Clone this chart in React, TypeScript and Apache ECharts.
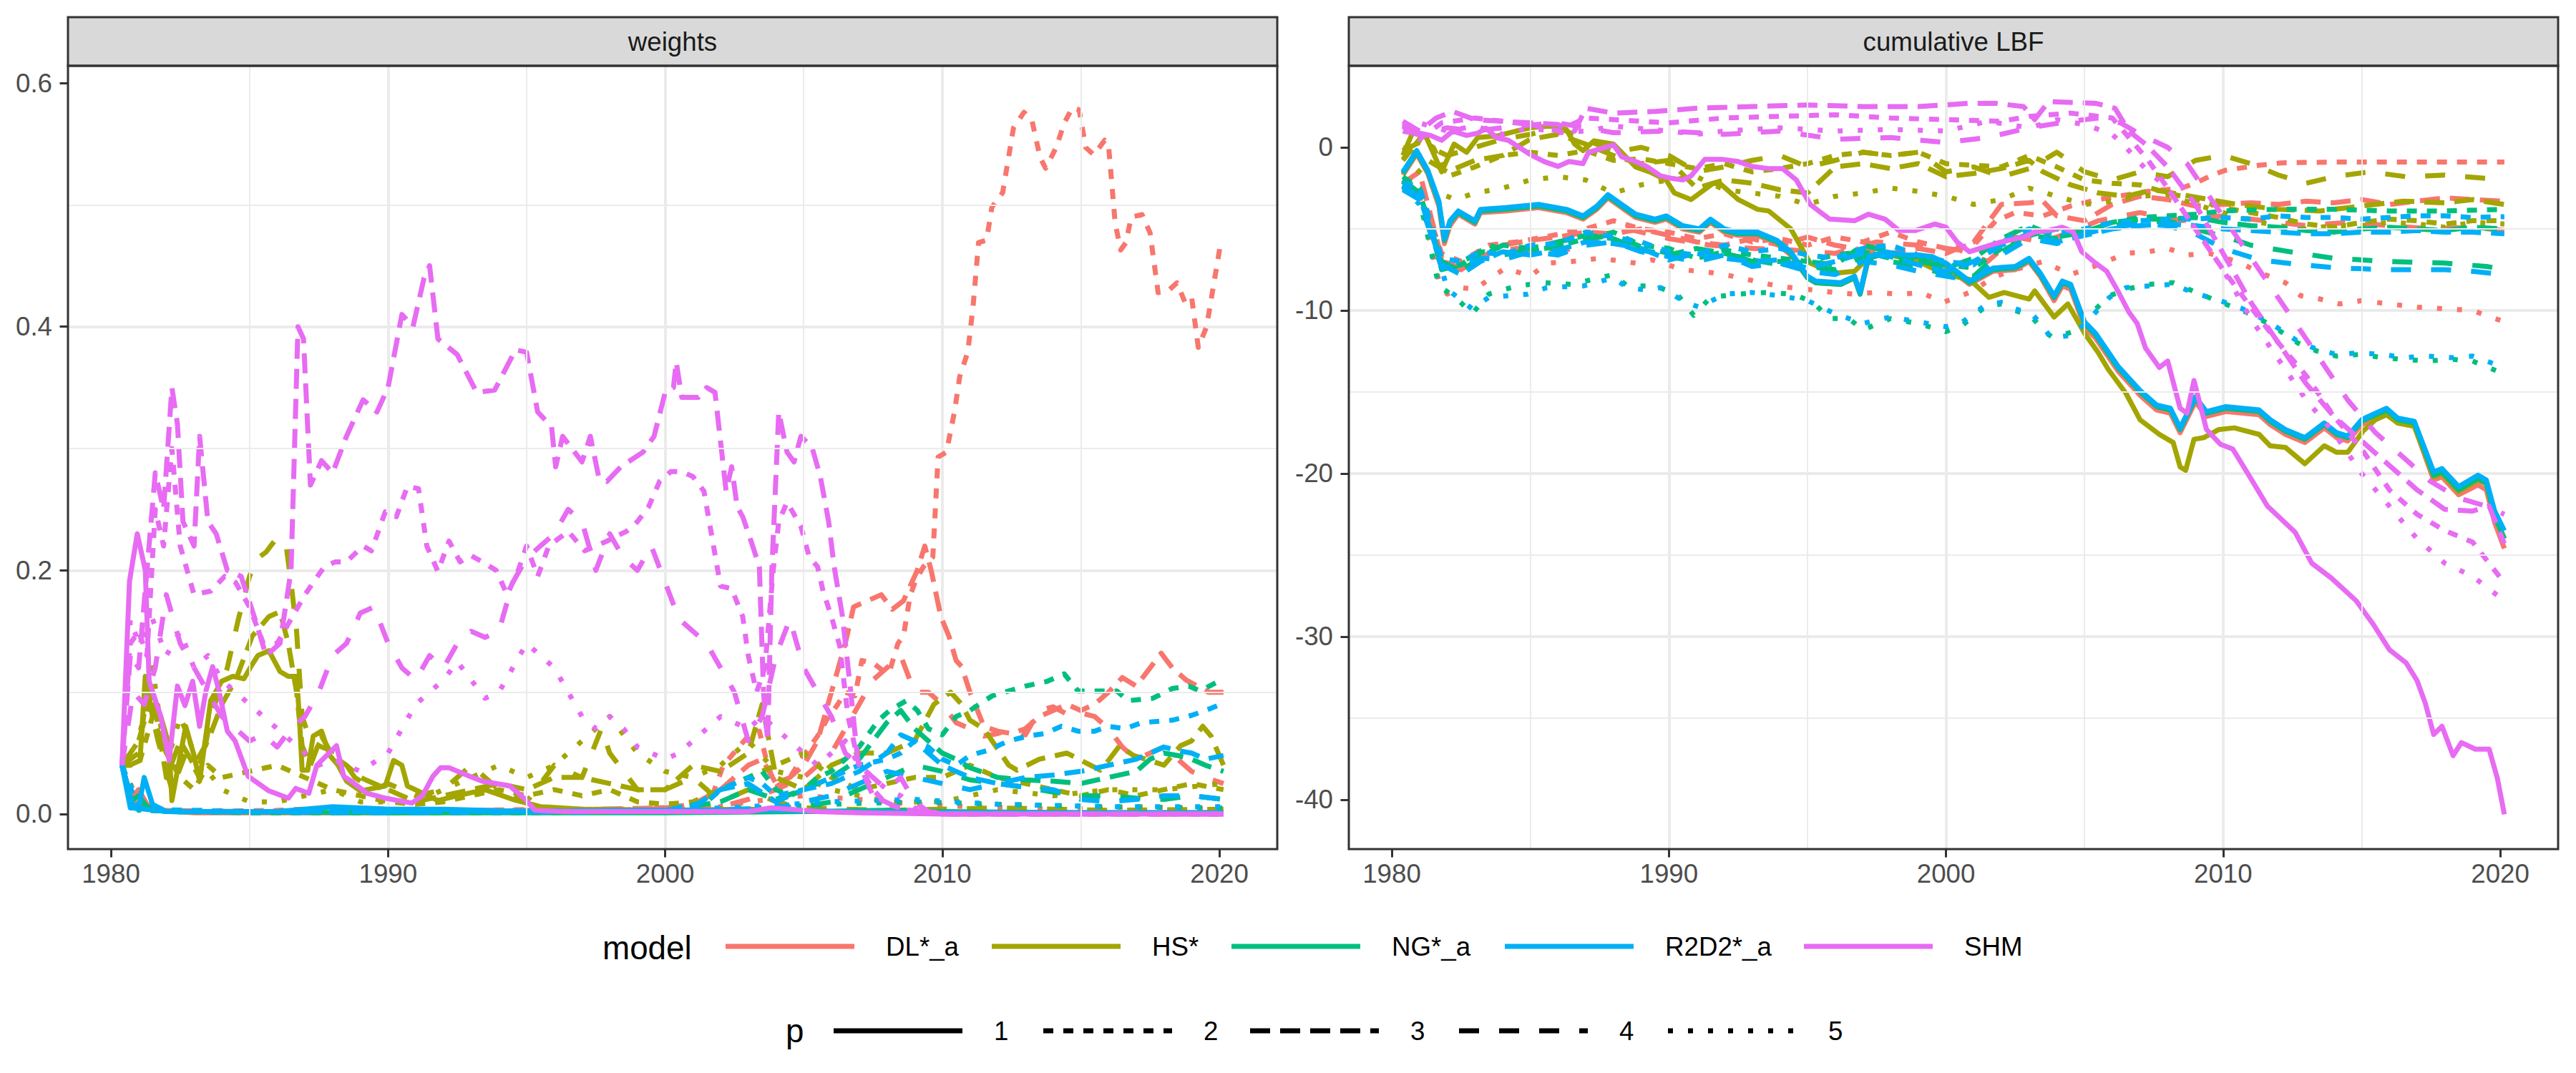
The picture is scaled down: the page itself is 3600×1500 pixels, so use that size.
import React, { useEffect, useRef } from "react";
import * as echarts from "echarts";

const FONT = '"Liberation Sans", Arial, Helvetica, sans-serif';

const MODELS = ["DL*_a", "HS*", "NG*_a", "R2D2*_a", "SHM"];
const P_LEVELS = ["1", "2", "3", "4", "5"];
const PANELS = ["weights", "cumulative LBF"];
const MODEL_COLORS = ["#F8766D", "#A3A500", "#00BF7D", "#00B0F6", "#E76BF3"];
const P_DASH: (number[] | null)[] = [null, [14, 14], [28, 14], [28, 28], [7, 21]];

const X_MIN = 1978.45;
const X_MAX = 2022.09;
const X_TICKS = [1980, 1990, 2000, 2010, 2020];
const X_MINOR = [1985, 1995, 2005, 2015];
const W_MIN = -0.0288;
const W_MAX = 0.6141;
const W_TICKS = [0, 0.2, 0.4, 0.6];
const W_MINOR = [0.1, 0.3, 0.5];
const L_MIN = -43.03;
const L_MAX = 5.0;
const L_TICKS = [-40, -30, -20, -10, 0];
const L_MINOR = [-35, -25, -15, -5];

// ---------------- weights ----------------
const W_DL_1 = [[1980.4,0.04],[1980.7,0.012],[1981.0,0.02],[1981.3,0.008],[1981.8,0.003],[1983,0.001],[1990,0.001],[2000,0.002],[2003,0.003],[2006,0.002],[2010,0.001],[2015,0.001],[2020.15,0.001]];
const W_DL_2 = [[1980.4,0.04],[1980.8,0.01],[1981.5,0.004],[1983,0.002],[1986,0.003],[1988,0.005],[1990,0.004],[1993,0.003],[1996,0.004],[1999,0.004],[2000.5,0.006],[2001.2,0.01],[2001.7,0.015],[2002.1,0.04],[2002.55,0.052],[2003.0,0.064],[2003.4,0.068],[2003.7,0.04],[2004.0,0.022],[2004.5,0.03],[2005.0,0.048],[2005.5,0.064],[2005.9,0.08],[2006.2,0.089],[2006.5,0.1],[2006.85,0.097],[2007.1,0.126],[2007.5,0.124],[2007.9,0.117],[2008.1,0.117],[2008.4,0.14],[2008.6,0.146],[2008.84,0.179],[2009.03,0.191],[2009.32,0.203],[2009.66,0.211],[2009.85,0.293],[2010.15,0.297],[2010.44,0.33],[2010.63,0.359],[2010.92,0.379],[2011.11,0.416],[2011.31,0.469],[2011.6,0.471],[2011.79,0.498],[2012.18,0.51],[2012.57,0.563],[2012.95,0.576],[2013.24,0.569],[2013.53,0.539],[2013.73,0.53],[2014.11,0.547],[2014.4,0.567],[2014.7,0.58],[2014.94,0.578],[2015.18,0.547],[2015.47,0.541],[2015.86,0.553],[2016.0,0.549],[2016.24,0.485],[2016.44,0.463],[2016.63,0.469],[2016.82,0.49],[2017.21,0.492],[2017.5,0.477],[2017.79,0.428],[2018.18,0.43],[2018.47,0.436],[2018.76,0.42],[2019.0,0.424],[2019.24,0.383],[2019.54,0.4],[2020.02,0.465],[2020.15,0.469]];
const W_DL_3 = [[1980.4,0.04],[1980.8,0.008],[1981.5,0.003],[1985,0.002],[1990,0.003],[1995,0.003],[2000,0.005],[2001,0.008],[2002,0.02],[2003,0.04],[2003.5,0.045],[2004,0.025],[2004.5,0.03],[2005,0.04],[2005.5,0.06],[2006,0.1],[2006.5,0.14],[2006.8,0.17],[2007.3,0.175],[2007.8,0.18],[2008.2,0.168],[2008.6,0.175],[2008.9,0.19],[2009.1,0.2],[2009.37,0.22],[2009.6,0.2],[2009.95,0.162],[2010.24,0.146],[2010.5,0.126],[2010.7,0.121],[2011.0,0.1],[2011.2,0.089],[2011.5,0.072],[2012,0.068],[2012.5,0.066],[2013,0.07],[2013.5,0.08],[2014,0.085],[2014.5,0.09],[2015,0.085],[2015.5,0.09],[2016,0.1],[2016.5,0.112],[2017,0.105],[2017.5,0.12],[2017.9,0.132],[2018.3,0.12],[2018.8,0.11],[2019.2,0.105],[2019.6,0.1],[2020.15,0.1]];
const W_DL_4 = [[1980.4,0.04],[1980.8,0.006],[1982,0.002],[1990,0.002],[1998,0.003],[2002,0.006],[2003,0.012],[2004,0.02],[2005,0.03],[2006,0.05],[2006.5,0.07],[2007,0.09],[2007.5,0.11],[2008,0.12],[2008.5,0.13],[2009,0.1],[2009.5,0.1],[2010,0.09],[2010.5,0.075],[2011,0.07],[2011.5,0.064],[2012,0.066],[2012.5,0.07],[2013,0.065],[2013.5,0.085],[2014,0.088],[2014.5,0.082],[2015,0.083],[2015.5,0.08],[2016,0.07],[2016.5,0.055],[2017,0.045],[2017.5,0.05],[2018,0.055],[2018.5,0.045],[2019,0.035],[2019.5,0.03],[2020.15,0.025]];
const W_DL_5 = [[1980.4,0.04],[1981,0.01],[1982,0.003],[1990,0.002],[2000,0.003],[2002,0.006],[2003,0.01],[2005,0.015],[2007,0.012],[2009,0.008],[2011,0.006],[2014,0.004],[2017,0.006],[2020.15,0.004]];

const W_HS_1 = [[1980.4,0.04],[1980.67,0.04],[1981.05,0.044],[1981.24,0.113],[1981.5,0.08],[1981.8,0.08],[1982.1,0.056],[1982.2,0.011],[1982.5,0.048],[1982.7,0.072],[1983.0,0.048],[1983.2,0.027],[1983.4,0.06],[1983.6,0.093],[1984.0,0.109],[1984.4,0.113],[1984.8,0.111],[1985.05,0.121],[1985.3,0.13],[1985.7,0.134],[1986.1,0.117],[1986.4,0.113],[1986.7,0.113],[1986.8,0.08],[1986.9,0.036],[1987.1,0.036],[1987.3,0.064],[1987.6,0.068],[1987.9,0.048],[1988.2,0.04],[1988.5,0.027],[1989.0,0.019],[1989.9,0.023],[1990.2,0.044],[1990.5,0.04],[1990.7,0.023],[1991.8,0.011],[1992.5,0.015],[1993.5,0.02],[1994.5,0.012],[1995.5,0.006],[1997,0.004],[2000,0.003],[2003,0.004],[2006,0.002],[2010,0.001],[2015,0.001],[2020.15,0.001]];
const W_HS_2 = [[1980.4,0.04],[1981,0.04],[1981.5,0.08],[1982,0.05],[1982.5,0.03],[1983,0.02],[1983.5,0.04],[1984,0.03],[1985,0.035],[1986,0.04],[1987,0.03],[1988,0.02],[1989,0.015],[1990,0.01],[1991,0.008],[1992,0.01],[1993,0.015],[1994,0.02],[1995,0.015],[1996,0.02],[1997,0.015],[1998,0.02],[1999,0.01],[2000,0.008],[2001,0.01],[2002,0.02],[2003,0.03],[2004,0.04],[2005,0.05],[2006,0.03],[2007,0.02],[2008,0.025],[2009,0.03],[2010,0.03],[2011,0.04],[2012,0.03],[2013,0.025],[2014,0.02],[2015,0.015],[2016,0.02],[2017,0.015],[2018,0.02],[2019,0.025],[2020.15,0.02]];
const W_HS_3 = [[1980.4,0.04],[1981,0.06],[1981.5,0.1],[1982,0.03],[1982.5,0.06],[1983,0.04],[1983.5,0.06],[1984,0.09],[1984.5,0.11],[1985.1,0.146],[1985.7,0.162],[1986.1,0.166],[1986.4,0.14],[1986.7,0.1],[1986.9,0.056],[1987.2,0.04],[1987.6,0.064],[1988,0.048],[1988.5,0.04],[1989,0.03],[1990,0.02],[1991,0.01],[1992,0.015],[1993,0.02],[1994,0.025],[1995,0.02],[1996,0.03],[1997,0.03],[1998,0.025],[1999,0.02],[2000,0.02],[2001,0.04],[2002,0.035],[2003,0.05],[2003.5,0.09],[2004,0.03],[2005,0.02],[2006,0.04],[2007,0.05],[2008,0.05],[2009,0.06],[2009.7,0.09],[2010.3,0.1],[2010.7,0.09],[2011,0.077],[2011.5,0.07],[2012.4,0.04],[2012.7,0.036],[2013.5,0.045],[2014.5,0.05],[2015.7,0.036],[2016,0.044],[2016.4,0.056],[2016.9,0.048],[2017.5,0.044],[2018,0.04],[2018.6,0.056],[2019,0.06],[2019.4,0.072],[2019.7,0.064],[2020.15,0.04]];
const W_HS_4 = [[1980.4,0.04],[1981,0.05],[1981.3,0.1],[1981.7,0.06],[1982.2,0.02],[1982.7,0.05],[1983.2,0.03],[1983.6,0.08],[1984.2,0.12],[1984.6,0.16],[1985.0,0.195],[1985.3,0.21],[1985.6,0.215],[1985.9,0.224],[1986.3,0.224],[1986.5,0.19],[1986.7,0.15],[1986.9,0.08],[1987.2,0.06],[1987.6,0.055],[1988.2,0.05],[1988.8,0.03],[1989.5,0.02],[1990,0.025],[1991,0.015],[1992,0.02],[1993,0.04],[1994,0.02],[1995,0.01],[1996,0.04],[1997,0.03],[1997.7,0.07],[1998,0.05],[1999,0.02],[2000,0.02],[2001,0.03],[2002,0.01],[2003,0.02],[2004,0.01],[2005,0.005],[2008,0.003],[2012,0.005],[2016,0.003],[2020.15,0.004]];
const W_HS_5 = [[1980.4,0.04],[1981,0.06],[1981.5,0.12],[1982,0.04],[1982.5,0.08],[1983,0.05],[1984,0.02],[1985,0.01],[1986,0.01],[1987,0.015],[1988,0.02],[1989,0.01],[1990,0.01],[1991,0.01],[1992,0.02],[1993,0.03],[1994,0.04],[1995,0.03],[1996,0.04],[1997,0.06],[1998,0.08],[1999,0.05],[2000,0.035],[2001,0.03],[2002,0.04],[2003,0.06],[2004,0.035],[2005,0.03],[2006,0.02],[2007,0.015],[2008,0.01],[2010,0.01],[2012,0.02],[2014,0.015],[2016,0.02],[2018,0.02],[2020.15,0.025]];

const W_NG_1 = [[1980.4,0.04],[1980.7,0.01],[1981.0,0.015],[1981.3,0.006],[1982,0.002],[1990,0.001],[2000,0.001],[2005,0.002],[2008,0.003],[2010,0.002],[2015,0.001],[2020.15,0.001]];
const W_NG_2 = [[1980.4,0.04],[1981,0.003],[1985,0.001],[1990,0.001],[1995,0.001],[2000,0.002],[2001.5,0.01],[2002,0.02],[2003,0.03],[2003.5,0.035],[2004,0.02],[2004.5,0.015],[2005,0.02],[2005.5,0.03],[2006,0.035],[2006.5,0.045],[2007,0.055],[2007.7,0.077],[2008.1,0.085],[2008.7,0.093],[2009.1,0.085],[2009.5,0.07],[2010,0.065],[2010.5,0.08],[2011,0.085],[2011.8,0.097],[2012.4,0.101],[2013,0.105],[2013.8,0.109],[2014.4,0.115],[2014.9,0.101],[2015.7,0.101],[2016.3,0.101],[2016.7,0.093],[2017.6,0.095],[2018.3,0.103],[2018.9,0.105],[2019.3,0.101],[2020.15,0.111]];
const W_NG_3 = [[1980.4,0.04],[1980.8,0.006],[1982,0.002],[1990,0.002],[2000,0.003],[2002,0.01],[2003,0.02],[2004,0.012],[2005,0.02],[2006,0.03],[2007,0.045],[2007.5,0.06],[2008,0.075],[2008.5,0.085],[2009,0.07],[2009.5,0.06],[2010,0.05],[2010.5,0.045],[2011,0.038],[2012,0.03],[2013,0.028],[2014,0.027],[2015,0.025],[2016,0.03],[2017,0.035],[2017.5,0.045],[2018,0.05],[2018.5,0.048],[2019,0.045],[2019.5,0.04],[2020.15,0.035]];
const W_NG_4 = [[1980.4,0.04],[1980.8,0.006],[1982,0.002],[1990,0.001],[2000,0.002],[2003,0.004],[2005,0.006],[2006,0.01],[2007,0.02],[2008,0.03],[2009,0.04],[2010,0.035],[2011,0.028],[2012,0.025],[2013,0.022],[2014,0.018],[2015,0.015],[2016,0.015],[2017,0.013],[2018,0.012],[2019,0.015],[2020.15,0.012]];
const W_NG_5 = [[1980.4,0.04],[1981,0.008],[1982,0.002],[1990,0.001],[2000,0.002],[2003,0.005],[2006,0.008],[2009,0.01],[2012,0.008],[2016,0.006],[2020.15,0.005]];

const W_R_1 = [[1980.4,0.04],[1980.7,0.005],[1981.0,0.005],[1981.2,0.03],[1981.5,0.008],[1982,0.002],[1986,0.002],[1987.5,0.005],[1988,0.006],[1990,0.004],[1992,0.004],[1995,0.002],[2000,0.003],[2004,0.003],[2006,0.002],[2010,0.001],[2020.15,0.001]];
const W_R_2 = [[1980.4,0.04],[1981,0.004],[1985,0.002],[1990,0.002],[1995,0.002],[2000,0.003],[2001.5,0.01],[2002,0.02],[2003,0.03],[2003.5,0.025],[2004,0.015],[2005,0.02],[2006,0.03],[2007,0.04],[2008,0.045],[2008.5,0.05],[2009,0.06],[2009.5,0.055],[2010,0.045],[2010.5,0.04],[2011,0.048],[2011.6,0.052],[2012.4,0.06],[2013.1,0.064],[2013.7,0.066],[2014.3,0.072],[2014.9,0.068],[2015.5,0.068],[2016,0.072],[2016.6,0.07],[2017.2,0.075],[2018.3,0.077],[2019,0.081],[2019.5,0.085],[2020.15,0.091]];
const W_R_3 = [[1980.4,0.04],[1980.8,0.005],[1982,0.002],[1990,0.002],[2000,0.003],[2001,0.006],[2002,0.02],[2003,0.025],[2004,0.01],[2005,0.02],[2006,0.025],[2007,0.035],[2008,0.05],[2008.5,0.065],[2009,0.06],[2009.5,0.05],[2010,0.04],[2010.5,0.035],[2011,0.03],[2012,0.025],[2013,0.03],[2014,0.032],[2015,0.035],[2016,0.04],[2017,0.045],[2017.5,0.05],[2018,0.055],[2018.5,0.052],[2019,0.05],[2019.5,0.045],[2020.15,0.048]];
const W_R_4 = [[1980.4,0.04],[1980.8,0.005],[1982,0.002],[1990,0.001],[2000,0.002],[2004,0.005],[2006,0.015],[2007,0.025],[2008,0.035],[2009,0.03],[2010,0.025],[2011,0.02],[2012,0.025],[2013,0.022],[2014,0.02],[2015,0.012],[2016,0.01],[2017,0.012],[2018,0.015],[2019,0.015],[2020.15,0.012]];
const W_R_5 = [[1980.4,0.04],[1981,0.006],[1982,0.002],[1990,0.002],[2000,0.003],[2003,0.006],[2006,0.01],[2009,0.012],[2012,0.008],[2016,0.006],[2020.15,0.006]];

const W_SHM_1 = [[1980.4,0.04],[1980.67,0.191],[1980.95,0.23],[1981.24,0.2],[1981.38,0.109],[1981.8,0.08],[1982.1,0.044],[1982.4,0.105],[1982.67,0.089],[1982.95,0.109],[1983.2,0.072],[1983.43,0.101],[1983.67,0.121],[1983.9,0.101],[1984.2,0.068],[1984.48,0.06],[1984.95,0.031],[1985.7,0.019],[1986.4,0.013],[1986.67,0.021],[1987.14,0.017],[1987.43,0.04],[1988.14,0.056],[1988.4,0.031],[1988.67,0.027],[1989.24,0.017],[1989.9,0.013],[1990.86,0.009],[1991.24,0.015],[1991.62,0.031],[1991.9,0.038],[1992.2,0.038],[1992.95,0.031],[1993.4,0.027],[1994.4,0.023],[1994.7,0.017],[1995.0,0.011],[1995.3,0.003],[1996.3,0.002],[2000,0.002],[2003,0.002],[2003.8,0.005],[2004.5,0.004],[2005.5,0.002],[2007,0.001],[2010,0],[2020.15,0]];
const W_SHM_2 = [[1980.4,0.04],[1980.7,0.14],[1981,0.15],[1981.3,0.13],[1981.6,0.25],[1981.9,0.22],[1982.2,0.3],[1982.5,0.22],[1983,0.18],[1983.6,0.183],[1984.1,0.195],[1984.5,0.19],[1985,0.17],[1985.5,0.14],[1986,0.14],[1986.5,0.16],[1987,0.18],[1987.3,0.19],[1987.7,0.203],[1988.1,0.207],[1988.5,0.207],[1989.1,0.22],[1989.4,0.216],[1989.9,0.248],[1990.3,0.244],[1990.7,0.269],[1991.1,0.267],[1991.4,0.22],[1991.8,0.199],[1992.2,0.224],[1992.6,0.207],[1993.0,0.212],[1993.4,0.207],[1993.9,0.2],[1994.3,0.18],[1994.7,0.2],[1995.0,0.22],[1995.4,0.195],[1995.8,0.22],[1996.5,0.232],[1997.1,0.216],[1997.9,0.224],[1998.6,0.232],[1999.0,0.24],[1999.4,0.252],[1999.8,0.273],[2000.2,0.281],[2000.6,0.281],[2001.0,0.277],[2001.4,0.265],[2002.0,0.187],[2002.4,0.185],[2002.8,0.162],[2003.0,0.13],[2003.3,0.1],[2003.6,0.12],[2003.9,0.2],[2004.1,0.24],[2004.4,0.256],[2004.9,0.236],[2005.2,0.211],[2005.5,0.203],[2005.7,0.183],[2006.0,0.162],[2006.3,0.138],[2006.6,0.08],[2007,0.04],[2007.5,0.02],[2008,0.008],[2009,0.002],[2010,0],[2020.15,0]];
const W_SHM_3 = [[1980.4,0.04],[1980.7,0.13],[1981,0.12],[1981.3,0.2],[1981.6,0.28],[1981.9,0.25],[1982.2,0.35],[1982.4,0.32],[1982.6,0.24],[1983.0,0.22],[1983.2,0.31],[1983.5,0.24],[1983.8,0.23],[1984.2,0.2],[1984.7,0.195],[1985.2,0.16],[1985.6,0.13],[1986.1,0.14],[1986.5,0.2],[1986.75,0.4],[1986.95,0.39],[1987.2,0.27],[1987.6,0.29],[1988,0.28],[1988.5,0.31],[1989.1,0.34],[1989.6,0.33],[1990,0.35],[1990.5,0.41],[1990.9,0.4],[1991.3,0.44],[1991.5,0.45],[1991.8,0.39],[1992.5,0.377],[1993.2,0.346],[1993.85,0.348],[1994.6,0.381],[1995.0,0.379],[1995.4,0.33],[1995.9,0.318],[1996.05,0.285],[1996.3,0.31],[1997.0,0.289],[1997.3,0.31],[1997.6,0.277],[1997.9,0.273],[1998.4,0.285],[1999.2,0.297],[1999.6,0.31],[2000.0,0.346],[2000.3,0.35],[2000.4,0.371],[2000.6,0.342],[2001.2,0.342],[2001.5,0.35],[2001.8,0.346],[2002.2,0.265],[2002.4,0.285],[2002.6,0.252],[2002.8,0.244],[2003.1,0.224],[2003.4,0.203],[2003.55,0.1],[2003.7,0.06],[2003.85,0.2],[2004.1,0.33],[2004.4,0.297],[2004.65,0.289],[2004.9,0.31],[2005.3,0.301],[2005.6,0.277],[2005.9,0.24],[2006.1,0.203],[2006.4,0.162],[2006.7,0.1],[2006.95,0.044],[2007.5,0.015],[2008.5,0.004],[2010,0],[2020.15,0]];
const W_SHM_4 = [[1980.4,0.04],[1980.8,0.1],[1981.2,0.09],[1981.6,0.12],[1982,0.18],[1982.5,0.14],[1983,0.12],[1983.5,0.1],[1984,0.08],[1984.5,0.07],[1985,0.06],[1985.5,0.065],[1986,0.055],[1986.5,0.07],[1987,0.08],[1987.5,0.1],[1988,0.13],[1988.5,0.14],[1989,0.165],[1989.5,0.17],[1990,0.14],[1990.5,0.12],[1991,0.11],[1991.5,0.13],[1992,0.12],[1992.5,0.14],[1993,0.15],[1993.5,0.145],[1994,0.15],[1994.5,0.19],[1995,0.21],[1995.5,0.22],[1996,0.23],[1996.5,0.25],[1997,0.24],[1997.5,0.2],[1998,0.23],[1998.5,0.21],[1999,0.2],[1999.5,0.22],[2000,0.19],[2000.5,0.16],[2001,0.15],[2001.5,0.14],[2002,0.12],[2002.5,0.1],[2003,0.06],[2003.5,0.08],[2004,0.13],[2004.5,0.16],[2005,0.12],[2005.5,0.1],[2006,0.08],[2006.5,0.05],[2007,0.04],[2007.5,0.03],[2008,0.02],[2008.5,0.03],[2009,0.01],[2009.5,0.002],[2010,0],[2020.15,0]];
const W_SHM_5 = [[1980.4,0.04],[1980.7,0.16],[1981,0.14],[1981.5,0.16],[1982,0.13],[1982.5,0.15],[1983,0.12],[1983.5,0.13],[1984,0.11],[1984.5,0.1],[1985,0.09],[1985.5,0.08],[1986,0.07],[1986.5,0.06],[1987,0.05],[1987.5,0.04],[1988,0.045],[1989,0.035],[1990,0.05],[1991,0.09],[1991.5,0.1],[1992,0.11],[1992.5,0.125],[1993,0.11],[1993.5,0.095],[1994,0.1],[1994.5,0.12],[1995,0.14],[1995.5,0.13],[1996,0.12],[1996.5,0.1],[1997,0.08],[1997.5,0.07],[1998,0.08],[1998.5,0.07],[1999,0.055],[1999.5,0.05],[2000,0.045],[2000.5,0.05],[2001,0.06],[2001.5,0.07],[2002,0.08],[2002.5,0.075],[2003,0.07],[2003.5,0.08],[2004,0.07],[2004.5,0.06],[2005,0.05],[2005.5,0.04],[2006,0.05],[2006.5,0.06],[2007,0.04],[2007.5,0.03],[2008,0.02],[2008.5,0.015],[2009,0.005],[2010,0],[2020.15,0]];

// ---------------- cumulative LBF ----------------
const L_DL_1 = [[1980.4,-1.7],[1980.9,-0.4],[1981.3,-1.6],[1981.7,-3.6],[1981.9,-5.9],[1982.1,-4.8],[1982.4,-4.1],[1983.0,-4.7],[1983.2,-4.0],[1984.1,-3.9],[1985.3,-3.7],[1986.3,-4.0],[1986.9,-4.4],[1987.4,-3.8],[1987.8,-3.1],[1988.3,-3.7],[1988.8,-4.3],[1989.5,-4.6],[1989.9,-4.4],[1990.5,-5.0],[1991.1,-5.2],[1991.5,-4.6],[1992.0,-5.2],[1992.5,-5.4],[1993.2,-5.4],[1993.9,-5.9],[1994.4,-6.6],[1995.0,-8.0],[1995.3,-8.3],[1996.2,-8.4],[1996.7,-8.0],[1996.9,-9.0],[1997.2,-6.8],[1997.8,-6.5],[1998.5,-6.8],[1999.0,-6.8],[1999.5,-6.9],[2000.0,-7.3],[2000.85,-8.4],[2001.7,-7.6],[2002.5,-7.5],[2003.0,-7.0],[2003.4,-7.9],[2003.9,-9.4],[2004.2,-8.5],[2004.5,-8.7],[2005.0,-11.0],[2005.4,-11.7],[2006.2,-13.7],[2007.0,-15.2],[2007.6,-16.1],[2008.1,-16.3],[2008.45,-17.5],[2009.0,-15.6],[2009.4,-16.5],[2010.1,-16.2],[2011.3,-16.4],[2011.7,-17.0],[2012.25,-17.6],[2012.95,-18.1],[2013.65,-17.2],[2014.1,-17.8],[2014.5,-18.0],[2015.0,-17.0],[2015.5,-16.6],[2015.9,-16.3],[2016.3,-16.9],[2016.9,-17.1],[2017.6,-20.4],[2017.9,-20.2],[2018.5,-21.3],[2019.2,-20.7],[2019.5,-21.0],[2019.8,-23.0],[2020.15,-24.6]];
const L_DL_2 = [[1980.4,-2.0],[1981,-2.5],[1981.8,-6.5],[1982.5,-7.0],[1983.5,-6.0],[1984.5,-5.8],[1985.5,-5.5],[1987,-5.0],[1988,-4.5],[1989,-5.0],[1990,-5.2],[1991,-5.6],[1992,-5.3],[1993,-5.8],[1994,-5.6],[1995,-6.0],[1996,-5.5],[1997,-5.8],[1998,-5.2],[1999,-5.8],[2000,-6.2],[2001,-6.0],[2001.8,-4.5],[2002.5,-4.0],[2003.5,-4.2],[2004.5,-3.6],[2005.5,-3.2],[2006.2,-3.0],[2007.3,-2.7],[2008.5,-2.5],[2009,-2.2],[2009.6,-1.7],[2010.1,-1.4],[2011.3,-1.1],[2012.1,-0.95],[2014,-0.9],[2016,-0.9],[2018,-0.9],[2020.15,-0.9]];
const L_DL_3 = [[1980.4,-2.2],[1981,-1.5],[1981.8,-6.8],[1982.5,-7.5],[1983.2,-6.8],[1984,-6.0],[1985,-5.7],[1986,-5.5],[1987,-5.2],[1988,-5.3],[1989,-5.0],[1990,-5.4],[1991,-5.8],[1992,-6.0],[1993,-5.6],[1994,-6.0],[1995,-5.5],[1996,-6.0],[1997,-6.3],[1998,-6.5],[1999,-6.2],[2000,-6.5],[2001,-5.8],[2002,-3.5],[2003,-3.4],[2003.5,-3.3],[2004,-4.2],[2005,-4.5],[2006,-3.5],[2007,-3.0],[2008,-3.2],[2009,-3.6],[2010,-3.5],[2011,-3.4],[2012,-3.5],[2013,-3.3],[2014,-3.4],[2015,-3.2],[2016,-3.5],[2017,-3.3],[2018,-3.1],[2019,-3.2],[2020.15,-3.3]];
const L_DL_4 = [[1980.4,-2.5],[1981,-3.0],[1981.8,-7.0],[1982.5,-7.3],[1983.5,-6.5],[1984.5,-6.2],[1986,-6.5],[1987.5,-5.5],[1988.5,-5.0],[1990,-5.6],[1991.5,-6.0],[1993,-6.2],[1994.5,-6.3],[1996,-6.5],[1997.5,-5.8],[1999,-6.0],[2000.5,-6.3],[2001.5,-7.0],[2002.5,-5.5],[2003.5,-5.8],[2004.5,-5.2],[2005.5,-4.5],[2007,-4.0],[2008.5,-4.5],[2010,-4.2],[2011.5,-4.5],[2013,-4.8],[2014.5,-4.6],[2016,-4.8],[2017.5,-5.0],[2019,-4.9],[2020.15,-5.1]];
const L_DL_5 = [[1980.4,-2.3],[1981,-3.0],[1981.7,-8.2],[1982,-9.0],[1982.5,-8.6],[1983,-8.7],[1984.1,-7.4],[1985,-7.9],[1985.6,-7.1],[1986.5,-7.0],[1987.5,-6.8],[1988.8,-7.1],[1989.4,-6.9],[1990.5,-7.5],[1991.6,-7.7],[1992.3,-7.9],[1993.9,-8.5],[1996,-8.9],[1996.7,-9.0],[1997.4,-8.9],[1998.4,-9.0],[1999.1,-8.9],[1999.9,-9.5],[2000.85,-8.9],[2001.8,-7.9],[2002.5,-7.5],[2003.5,-7.0],[2004.5,-7.8],[2005.5,-7.2],[2006.5,-6.5],[2007.3,-6.4],[2008,-6.2],[2008.7,-6.6],[2009.5,-6.5],[2010.5,-7.0],[2011.5,-7.8],[2012.25,-8.3],[2012.8,-9.1],[2013.5,-9.3],[2014.2,-9.6],[2015,-9.4],[2016,-9.6],[2017,-9.8],[2018,-9.9],[2019,-10.0],[2020.15,-10.7]];

const L_HS_1 = [[1980.4,-0.5],[1980.75,0.9],[1981.25,0.6],[1981.8,-1.5],[1982.25,0.2],[1982.7,-0.3],[1983.1,0.6],[1983.8,0.7],[1984.5,1.0],[1985.0,1.2],[1985.7,1.3],[1986.3,1.1],[1986.6,0.2],[1986.9,-0.2],[1987.3,0.4],[1988,0.2],[1988.8,-1.2],[1989.3,-1.5],[1989.9,-2.0],[1990.2,-2.8],[1990.8,-3.2],[1991.6,-2.2],[1991.9,-2.3],[1992.5,-3.2],[1993.2,-3.8],[1993.6,-3.9],[1994.4,-5.0],[1995.1,-7.1],[1995.5,-7.4],[1996.1,-7.7],[1996.7,-7.6],[1997.3,-6.6],[1998,-6.6],[1999,-7.0],[2000,-7.8],[2000.85,-8.1],[2001.55,-9.2],[2002.1,-8.9],[2003,-9.3],[2003.2,-8.8],[2003.9,-10.4],[2004.4,-9.6],[2005,-11.4],[2005.5,-12.6],[2005.85,-13.6],[2006.5,-15.1],[2007.0,-16.7],[2007.7,-17.6],[2008.2,-18.1],[2008.45,-19.6],[2008.65,-19.8],[2008.95,-17.9],[2009.3,-17.8],[2009.85,-17.3],[2010.4,-17.2],[2011.3,-17.6],[2011.7,-18.3],[2012.25,-18.4],[2012.95,-19.4],[2013.65,-18.3],[2014.1,-18.7],[2014.5,-18.7],[2015.05,-17.4],[2015.5,-16.7],[2015.9,-16.4],[2016.3,-16.9],[2016.9,-17.1],[2017.6,-20.2],[2017.9,-20.0],[2018.5,-21.1],[2019.2,-20.4],[2019.5,-20.6],[2019.8,-22.6],[2020.15,-24.0]];
const L_HS_2 = [[1980.4,-0.8],[1981,0.5],[1981.5,0.0],[1982,-1.8],[1983,-1.2],[1984,-0.5],[1985,-0.3],[1986,-0.5],[1987,-0.2],[1988,-0.8],[1989,-0.7],[1990,-1.0],[1991,-1.3],[1992,-1.0],[1993,-1.5],[1994,-1.3],[1995,-1.0],[1996,-0.5],[1997,-0.3],[1998,-0.5],[1999,-0.3],[2000,-1.0],[2001,-1.1],[2002,-1.2],[2003,-0.5],[2004,-1.2],[2005,-2.0],[2006,-2.2],[2007,-2.3],[2008,-2.8],[2009,-3.2],[2010,-3.7],[2011,-4.0],[2012,-4.3],[2013,-4.7],[2014,-4.9],[2015,-4.6],[2016,-4.4],[2017,-4.5],[2018,-4.7],[2019,-4.5],[2020.15,-4.5]];
const L_HS_3 = [[1980.4,0.0],[1981,-0.5],[1982,-1.5],[1983,-0.8],[1984,-0.5],[1985,0.5],[1986,0.8],[1987,0.2],[1988,-0.5],[1989,-1.0],[1990,-0.8],[1991,-2.5],[1992,-2.0],[1993,-2.2],[1994,-2.6],[1995,-2.8],[1996,-1.2],[1997,-1.0],[1998,-1.3],[1999,-1.0],[2000,-1.8],[2001,-1.6],[2002,-1.3],[2003,-0.8],[2003.5,-1.5],[2004.5,-2.3],[2005.5,-2.8],[2006.5,-3.0],[2007.5,-2.6],[2008.5,-2.9],[2009.5,-3.2],[2010.5,-3.5],[2012,-3.8],[2013.5,-3.9],[2015,-3.6],[2016.5,-3.3],[2018,-3.4],[2019,-3.2],[2020.15,-3.5]];
const L_HS_4 = [[1980.4,-0.2],[1981,0.3],[1982,-0.5],[1983,0.0],[1984,0.5],[1985,0.8],[1986,1.2],[1987,0.5],[1988,-0.3],[1989,0.0],[1990,-0.5],[1991,-1.5],[1992,-1.2],[1993,-0.8],[1994,-0.5],[1995,-1.2],[1996,-0.8],[1997,-0.3],[1998,-0.5],[1999,-0.3],[2000,-1.5],[2001,-1.2],[2002,-1.8],[2003,-1.3],[2004,-0.3],[2005,-1.5],[2006,-2.0],[2007,-1.5],[2008,-1.8],[2009,-0.8],[2010,-0.5],[2011,-1.0],[2012,-1.7],[2013,-2.2],[2014,-1.8],[2015.3,-1.5],[2016.6,-1.8],[2018,-1.7],[2019.5,-1.9],[2020.15,-2.2]];
const L_HS_5 = [[1980.4,-0.5],[1981,-1.5],[1981.7,-2.8],[1982.3,-3.2],[1983,-2.8],[1984,-2.5],[1985,-2.0],[1986,-1.8],[1987,-2.0],[1988,-2.8],[1989,-2.3],[1990,-2.0],[1991,-1.8],[1992,-2.6],[1993,-2.8],[1994,-3.0],[1995,-3.5],[1996,-3.0],[1997,-2.8],[1998,-2.5],[1999,-2.7],[2000,-3.0],[2001,-3.5],[2002,-3.2],[2003,-2.5],[2004,-3.0],[2005,-3.5],[2006,-3.3],[2007,-3.0],[2008,-2.9],[2009,-3.5],[2010,-4.0],[2011,-4.5],[2012,-4.8],[2013,-5.0],[2014,-4.8],[2015,-4.8],[2016,-4.6],[2017,-4.7],[2018,-4.9],[2019,-4.6],[2020.15,-4.7]];

const L_NG_1 = [[1980.4,-1.6],[1980.9,-0.3],[1981.3,-1.5],[1981.7,-3.4],[1981.9,-5.7],[1982.1,-4.6],[1982.4,-4.0],[1983.0,-4.6],[1983.2,-3.9],[1984.1,-3.8],[1985.3,-3.6],[1986.3,-3.9],[1986.9,-4.3],[1987.4,-3.7],[1987.8,-3.0],[1988.3,-3.6],[1988.8,-4.2],[1989.5,-4.5],[1989.9,-4.3],[1990.5,-4.9],[1991.1,-5.1],[1991.5,-4.5],[1992.0,-5.1],[1992.5,-5.3],[1993.2,-5.3],[1993.9,-5.8],[1994.4,-6.5],[1995.0,-8.0],[1995.3,-8.3],[1996.2,-8.4],[1996.7,-8.0],[1996.9,-9.0],[1997.2,-6.8],[1997.8,-6.5],[1998.5,-6.7],[1999.0,-6.7],[1999.5,-6.8],[2000.0,-7.2],[2000.85,-8.3],[2001.7,-7.5],[2002.5,-7.4],[2003.0,-6.9],[2003.4,-7.8],[2003.9,-9.2],[2004.2,-8.3],[2004.5,-8.5],[2005.0,-10.8],[2005.4,-11.5],[2006.2,-13.5],[2007.0,-15.0],[2007.6,-15.9],[2008.1,-16.1],[2008.45,-17.3],[2009.0,-15.4],[2009.4,-16.3],[2010.1,-16.0],[2011.3,-16.2],[2011.7,-16.8],[2012.25,-17.4],[2012.95,-17.9],[2013.65,-17.0],[2014.1,-17.6],[2014.5,-17.8],[2015.0,-16.8],[2015.5,-16.4],[2015.9,-16.1],[2016.3,-16.7],[2016.9,-16.9],[2017.6,-20.1],[2017.9,-19.9],[2018.5,-21.0],[2019.2,-20.3],[2019.5,-20.6],[2019.8,-22.6],[2020.15,-24.0]];
const L_NG_2 = [[1980.4,-1.8],[1981,-2.5],[1981.8,-7.5],[1982.5,-7.2],[1983.5,-6.0],[1984.5,-6.5],[1985.5,-6.3],[1987,-5.6],[1988,-5.2],[1989,-6.0],[1990,-6.2],[1991,-6.8],[1992,-6.3],[1993,-6.6],[1994,-6.8],[1995,-7.0],[1996,-6.6],[1997,-6.4],[1998,-6.8],[1999,-7.0],[2000,-7.2],[2001,-7.4],[2002,-6.2],[2003,-5.4],[2004,-5.0],[2005,-5.2],[2006,-4.6],[2007,-4.3],[2008,-4.2],[2009,-4.1],[2010,-3.9],[2012,-3.8],[2014,-3.8],[2016,-3.9],[2018,-3.9],[2020.15,-3.8]];
const L_NG_3 = [[1980.4,-2.0],[1981,-2.8],[1981.8,-7.0],[1982.5,-7.6],[1983.3,-6.6],[1984,-6.0],[1985,-6.2],[1986,-5.8],[1987,-5.4],[1988,-5.6],[1989,-6.3],[1990,-6.6],[1991,-6.2],[1992,-6.5],[1993,-6.9],[1994,-7.2],[1995,-7.0],[1996,-7.2],[1997,-6.0],[1998,-6.4],[1999,-6.9],[2000,-7.4],[2001,-6.8],[2002,-5.6],[2003,-4.8],[2004,-5.5],[2005,-5.2],[2006,-4.6],[2007,-4.4],[2008,-4.4],[2009,-4.3],[2010,-4.6],[2011,-4.8],[2012,-4.9],[2013,-5.1],[2014,-5.2],[2015,-5.0],[2016,-4.9],[2017,-5.0],[2018,-5.1],[2019,-4.9],[2020.15,-5.0]];
const L_NG_4 = [[1980.4,-2.3],[1981,-2.9],[1981.8,-7.3],[1982.5,-7.0],[1983.3,-6.4],[1984,-6.6],[1985,-6.3],[1986,-6.1],[1987,-5.6],[1988,-5.4],[1989,-6.1],[1990,-6.5],[1991,-6.8],[1992,-6.4],[1993,-7.0],[1994,-7.0],[1995,-7.3],[1996,-7.5],[1997,-6.7],[1998,-7.0],[1999,-7.3],[2000,-7.8],[2001,-7.9],[2002,-6.4],[2003,-5.4],[2004,-5.6],[2005,-5.1],[2006,-4.8],[2007,-4.6],[2008,-4.5],[2009,-5.0],[2010.3,-5.6],[2011,-6.0],[2012.4,-6.4],[2014,-6.8],[2016,-7.0],[2018,-7.1],[2019.5,-7.3],[2020.15,-7.5]];
const L_NG_5 = [[1980.4,-2.1],[1981,-3.2],[1981.7,-8.5],[1982.3,-9.2],[1982.9,-10.2],[1983.5,-9.0],[1984.5,-8.5],[1985.5,-8.3],[1986.5,-8.4],[1987.5,-8.0],[1988,-7.8],[1988.5,-8.5],[1989.5,-8.5],[1990.3,-9.0],[1990.9,-10.3],[1991.5,-9.2],[1992.5,-9.0],[1993.5,-8.9],[1994.5,-9.0],[1995.2,-9.5],[1995.8,-10.5],[1996.5,-10.5],[1997,-11.2],[1998,-10.5],[1999,-10.8],[2000,-11.3],[2000.6,-10.9],[2001.4,-9.8],[2002,-9.6],[2002.5,-10.0],[2003.1,-10.4],[2003.5,-11.2],[2003.8,-11.6],[2004.2,-11.5],[2004.6,-11.3],[2005.35,-10.0],[2005.9,-9.1],[2006.5,-8.7],[2007.3,-8.4],[2008.2,-8.3],[2008.9,-8.8],[2009.9,-9.5],[2010.7,-10.0],[2011.3,-10.5],[2012,-11.2],[2012.7,-12.0],[2013.4,-12.5],[2014.1,-12.8],[2014.9,-12.7],[2015.8,-12.9],[2016.5,-13.0],[2017.3,-13.1],[2018.3,-13.0],[2019,-13.1],[2020.15,-13.9]];

const L_R_1 = [[1980.4,-1.5],[1980.9,-0.2],[1981.3,-1.4],[1981.7,-3.3],[1981.9,-5.6],[1982.1,-4.5],[1982.4,-3.9],[1983.0,-4.5],[1983.2,-3.8],[1984.1,-3.7],[1985.3,-3.5],[1986.3,-3.8],[1986.9,-4.2],[1987.4,-3.6],[1987.8,-2.9],[1988.3,-3.5],[1988.8,-4.1],[1989.5,-4.4],[1989.9,-4.2],[1990.5,-4.8],[1991.1,-5.0],[1991.5,-4.4],[1992.0,-5.0],[1992.5,-5.2],[1993.2,-5.2],[1993.9,-5.7],[1994.4,-6.4],[1995.0,-7.9],[1995.3,-8.2],[1996.2,-8.3],[1996.7,-7.9],[1996.9,-8.9],[1997.2,-6.7],[1997.8,-6.4],[1998.5,-6.6],[1999.0,-6.6],[1999.5,-6.7],[2000.0,-7.1],[2000.85,-8.2],[2001.7,-7.4],[2002.5,-7.3],[2003.0,-6.8],[2003.4,-7.7],[2003.9,-9.1],[2004.2,-8.2],[2004.5,-8.4],[2005.0,-10.7],[2005.4,-11.4],[2006.2,-13.4],[2007.0,-14.9],[2007.6,-15.8],[2008.1,-16.0],[2008.45,-17.2],[2009.0,-15.3],[2009.4,-16.2],[2010.1,-15.9],[2011.3,-16.1],[2011.7,-16.7],[2012.25,-17.3],[2012.95,-17.8],[2013.65,-16.9],[2014.1,-17.5],[2014.5,-17.7],[2015.0,-16.7],[2015.5,-16.3],[2015.9,-16.0],[2016.3,-16.6],[2016.9,-16.8],[2017.6,-19.9],[2017.9,-19.7],[2018.5,-20.8],[2019.2,-20.1],[2019.5,-20.4],[2019.8,-22.3],[2020.15,-23.5]];
const L_R_2 = [[1980.4,-2.2],[1981,-2.4],[1981.8,-6.8],[1982.5,-7.0],[1983.2,-6.4],[1984,-6.6],[1985,-6.0],[1986,-5.9],[1987,-5.2],[1988,-5.5],[1989,-5.8],[1990,-6.4],[1991,-6.6],[1992,-6.0],[1993,-6.4],[1994,-6.2],[1995,-6.6],[1996,-6.8],[1997,-6.2],[1998,-6.0],[1999,-6.6],[2000,-7.0],[2001,-7.2],[2002,-5.8],[2003,-5.0],[2004,-5.3],[2005,-5.0],[2006,-4.6],[2007,-4.5],[2008,-4.4],[2009,-4.4],[2010,-4.3],[2011,-4.4],[2012,-4.2],[2013,-4.3],[2014,-4.3],[2015,-4.4],[2016,-4.3],[2017,-4.2],[2018,-4.2],[2019,-4.3],[2020.15,-4.25]];
const L_R_3 = [[1980.4,-2.4],[1981,-3.0],[1981.8,-7.2],[1982.5,-7.8],[1983.2,-7.0],[1984,-6.4],[1985,-6.6],[1986,-6.3],[1987,-5.8],[1988,-5.9],[1989,-6.2],[1990,-6.9],[1991,-6.5],[1992,-6.8],[1993,-7.0],[1994,-6.9],[1995,-7.4],[1996,-7.0],[1997,-6.5],[1998,-6.7],[1999,-7.2],[2000,-7.6],[2001,-7.0],[2002,-6.0],[2003,-5.3],[2004,-5.8],[2005,-5.4],[2006,-5.0],[2007,-4.8],[2008,-4.7],[2009,-4.8],[2010,-5.0],[2011,-5.1],[2012,-5.2],[2013,-5.3],[2014,-5.3],[2015,-5.2],[2016,-5.2],[2017,-5.1],[2018,-5.2],[2019,-5.2],[2020.15,-5.3]];
const L_R_4 = [[1980.4,-2.6],[1981,-3.2],[1981.8,-7.4],[1982.5,-7.2],[1983.3,-6.8],[1984,-6.9],[1985,-6.4],[1986,-6.6],[1987,-6.0],[1988,-5.8],[1989,-6.4],[1990,-6.7],[1991,-7.0],[1992,-6.6],[1993,-7.3],[1994,-7.1],[1995,-7.6],[1996,-7.8],[1997,-7.0],[1998,-7.2],[1999,-7.6],[2000,-7.9],[2001,-8.2],[2002,-6.6],[2003,-5.6],[2004,-5.9],[2005,-5.3],[2006,-4.9],[2007,-4.7],[2008,-4.8],[2009,-5.3],[2010,-6.2],[2011.3,-6.9],[2012.8,-7.2],[2014.2,-7.4],[2016,-7.5],[2018,-7.5],[2019,-7.6],[2020.15,-7.8]];
const L_R_5 = [[1980.4,-2.4],[1981,-3.5],[1981.5,-5.5],[1982,-8.7],[1982.9,-9.9],[1983.5,-9.2],[1984.9,-9.0],[1985.6,-8.6],[1986.9,-8.5],[1988,-8.0],[1988.5,-8.6],[1989.2,-8.75],[1989.7,-8.6],[1990.6,-9.5],[1991.1,-9.8],[1992,-9.0],[1993,-8.9],[1994,-9.1],[1995,-9.4],[1996,-10.2],[1997,-10.8],[1998,-10.4],[1999,-10.7],[2000,-11.0],[2000.6,-10.7],[2001.4,-9.7],[2002,-9.5],[2002.5,-9.9],[2003.1,-10.2],[2003.5,-11.0],[2003.8,-11.7],[2004.2,-11.6],[2004.6,-11.5],[2005.35,-10.2],[2005.9,-9.2],[2006.5,-8.6],[2007.3,-8.5],[2008.2,-8.4],[2008.9,-8.9],[2009.9,-9.4],[2010.7,-9.9],[2011.3,-10.4],[2012,-11.1],[2012.7,-11.9],[2013.4,-12.4],[2014.1,-12.7],[2014.9,-12.6],[2015.8,-12.7],[2016.5,-12.9],[2017.3,-12.8],[2018.3,-12.9],[2019,-12.8],[2020.15,-13.5]];

const L_SHM_1 = [[1980.4,1.46],[1981.0,0.87],[1981.4,0.73],[1981.8,0.44],[1982.2,1.0],[1982.7,0.73],[1983.1,0.87],[1983.4,1.17],[1983.8,0.58],[1984.2,0.44],[1984.6,0.0],[1985.0,-0.44],[1985.5,-0.87],[1986.0,-1.17],[1986.4,-0.87],[1986.9,-1.0],[1987.1,-0.3],[1988.0,0.15],[1988.3,-0.58],[1988.8,-0.87],[1989.2,-1.17],[1989.7,-1.75],[1990.1,-1.9],[1990.5,-2.0],[1990.8,-1.75],[1991.3,-0.73],[1991.9,-0.73],[1992.5,-0.87],[1993.0,-1.17],[1993.6,-1.3],[1994.1,-1.3],[1994.6,-2.0],[1995.1,-3.5],[1995.8,-4.4],[1996.7,-4.5],[1997.2,-4.1],[1997.8,-4.4],[1998.3,-5.1],[1998.9,-5.1],[1999.6,-4.7],[2000.0,-4.9],[2000.4,-5.8],[2000.85,-6.4],[2001.4,-6.1],[2002.0,-5.8],[2002.8,-5.5],[2003.2,-5.2],[2003.7,-5.1],[2004.2,-4.9],[2004.6,-5.2],[2004.9,-6.4],[2005.4,-7.1],[2005.8,-7.6],[2006.2,-8.8],[2006.6,-10.1],[2006.9,-10.8],[2007.2,-12.3],[2007.7,-13.5],[2008.0,-13.1],[2008.45,-16.0],[2008.7,-16.3],[2008.95,-14.3],[2009.4,-17.3],[2009.9,-18.2],[2010.35,-18.5],[2011.0,-20.3],[2011.6,-22.0],[2012.6,-23.6],[2013.2,-25.5],[2013.9,-26.4],[2014.8,-27.8],[2015.4,-29.2],[2016.0,-30.8],[2016.6,-31.6],[2017.0,-32.7],[2017.3,-34.1],[2017.6,-36.0],[2017.9,-35.5],[2018.3,-37.3],[2018.6,-36.5],[2019.1,-36.9],[2019.6,-36.9],[2019.9,-38.7],[2020.15,-40.9]];
const L_SHM_2 = [[1980.4,1.3],[1981,0.5],[1981.8,1.5],[1983,1.8],[1984,1.6],[1985,1.4],[1986,1.0],[1987,1.8],[1988,1.7],[1990,1.5],[1992,1.8],[1994,1.9],[1996,2.0],[1998,1.8],[2000,1.7],[2002,1.6],[2003,1.9],[2004.5,2.1],[2006,1.8],[2006.5,0.8],[2007.3,-0.8],[2008,-2.5],[2009,-5.0],[2010,-7.5],[2011,-9.8],[2012,-12.0],[2013,-14.0],[2014,-16.5],[2015,-18.5],[2016,-21.0],[2017,-22.5],[2018,-23.5],[2019,-24.2],[2020.15,-26.7]];
const L_SHM_3 = [[1980.4,1.6],[1981,1.0],[1981.6,1.8],[1982.2,2.2],[1983,1.7],[1984,1.6],[1985,1.5],[1986,1.4],[1986.6,1.0],[1987,2.4],[1988,2.1],[1989.5,2.2],[1991,2.4],[1993,2.5],[1995,2.6],[1997,2.5],[1999,2.5],[2000.85,2.7],[2001.8,2.7],[2002.8,2.5],[2003.2,1.7],[2003.7,2.8],[2005.4,2.7],[2006.1,2.4],[2006.6,1.0],[2007.2,0.2],[2008,-1.2],[2009,-3.5],[2010,-6.5],[2011,-9.5],[2012,-12.0],[2013,-14.5],[2014,-16.5],[2015,-18.0],[2016,-19.5],[2017,-21.0],[2018,-22.2],[2019,-22.3],[2019.6,-22.0],[2020.15,-24.3]];
const L_SHM_4 = [[1980.4,1.0],[1981,0.8],[1982,1.2],[1983,1.0],[1984.5,1.3],[1986,1.5],[1987,1.2],[1988,0.9],[1990,1.0],[1992,0.8],[1994,1.0],[1996,0.5],[1998,0.6],[2000,0.3],[2001.5,0.6],[2003,1.2],[2004.5,1.6],[2005.5,1.8],[2006.3,1.5],[2007,0.8],[2008,0.0],[2008.7,-1.0],[2009.5,-3.0],[2010.5,-5.5],[2011.5,-8.0],[2012.5,-10.5],[2013.5,-13.0],[2014.5,-15.5],[2015.5,-17.5],[2016.5,-19.0],[2017.5,-20.5],[2018.5,-21.5],[2019.5,-22.0],[2020.15,-22.5]];
const L_SHM_5 = [[1980.4,1.2],[1981,1.5],[1982,1.0],[1983,1.3],[1984,0.8],[1985,1.2],[1986,0.9],[1987,1.0],[1988,1.3],[1990,1.0],[1991,0.8],[1992,1.0],[1994,1.2],[1996,1.0],[1998,1.1],[2000,1.0],[2001.5,1.6],[2003,1.2],[2004,1.7],[2005,1.4],[2006,0.8],[2006.6,-0.2],[2007.3,-1.5],[2008,-2.5],[2009,-5.0],[2010,-7.5],[2011,-10.5],[2012,-13.0],[2013,-15.5],[2014,-17.5],[2015,-20.0],[2016,-22.0],[2017,-24.0],[2018,-25.5],[2019,-26.3],[2020.15,-27.8]];

const WEIGHTS = [
  [W_DL_1, W_DL_2, W_DL_3, W_DL_4, W_DL_5],
  [W_HS_1, W_HS_2, W_HS_3, W_HS_4, W_HS_5],
  [W_NG_1, W_NG_2, W_NG_3, W_NG_4, W_NG_5],
  [W_R_1, W_R_2, W_R_3, W_R_4, W_R_5],
  [W_SHM_1, W_SHM_2, W_SHM_3, W_SHM_4, W_SHM_5],
];
const LBF = [
  [L_DL_1, L_DL_2, L_DL_3, L_DL_4, L_DL_5],
  [L_HS_1, L_HS_2, L_HS_3, L_HS_4, L_HS_5],
  [L_NG_1, L_NG_2, L_NG_3, L_NG_4, L_NG_5],
  [L_R_1, L_R_2, L_R_3, L_R_4, L_R_5],
  [L_SHM_1, L_SHM_2, L_SHM_3, L_SHM_4, L_SHM_5],
];

// ---------------- layout ----------------
const PANEL_TOP = 92;
const PANEL_H = 1095;
const PANEL_W = 1690;
const PANEL_LEFT = [95, 1885];
const STRIP_TOP = 24;
const STRIP_H = 68;
const LINE_W = 7;
const LEGEND_ROW1_Y = 1323;
const LEGEND_ROW2_Y = 1441;
const MODEL_KEYS_X = [1014, 1386, 1721, 2103, 2521];
const P_KEYS_X = [1165, 1458, 1747, 2039, 2331];
const KEY_W = 180;
const LABEL_GAP = 44;

function xAxisFor(gridIndex: number) {
  return {
    type: "value",
    gridIndex,
    min: X_MIN,
    max: X_MAX,
    splitNumber: 5,
    axisLine: { show: false, onZero: false },
    axisTick: { show: true, length: 11.5, lineStyle: { color: "#333333", width: 3 }, customValues: X_TICKS },
    axisLabel: {
      show: true, color: "#4D4D4D", fontSize: 36.7, fontFamily: FONT, margin: 16,
      customValues: X_TICKS,
      formatter: (v: number) => String(Math.round(v)),
    },
    splitLine: { show: true, showMinLine: false, showMaxLine: false, lineStyle: { color: "#EBEBEB", width: 4 } },
  };
}

function yAxisFor(gridIndex: number, min: number, max: number, ticks: number[], splitNumber: number, fmt: (v: number) => string) {
  return {
    type: "value",
    gridIndex,
    min,
    max,
    splitNumber,
    axisLine: { show: false, onZero: false },
    axisTick: { show: true, length: 11.5, lineStyle: { color: "#333333", width: 3 }, customValues: ticks },
    axisLabel: {
      show: true, color: "#4D4D4D", fontSize: 36.7, fontFamily: FONT, margin: 22,
      customValues: ticks, formatter: fmt,
    },
    splitLine: { show: true, showMinLine: false, showMaxLine: false, lineStyle: { color: "#EBEBEB", width: 4 } },
  };
}

function minorGridSeries(panel: number, yMinor: number[]) {
  return {
    type: "line",
    xAxisIndex: panel,
    yAxisIndex: panel,
    data: [],
    silent: true,
    z: 1,
    markLine: {
      silent: true,
      symbol: ["none", "none"],
      label: { show: false },
      emphasis: { disabled: true },
      lineStyle: { color: "#EBEBEB", width: 2, type: "solid" },
      data: [...X_MINOR.map((v) => ({ xAxis: v })), ...yMinor.map((v) => ({ yAxis: v }))],
    },
  };
}

function dataSeries(panel: number, table: number[][][][]) {
  const out: any[] = [];
  table.forEach((byP, m) => {
    byP.forEach((data, p) => {
      out.push({
        type: "line",
        name: `${MODELS[m]} p${P_LEVELS[p]}`,
        xAxisIndex: panel,
        yAxisIndex: panel,
        data,
        symbol: "none",
        showSymbol: false,
        silent: true,
        z: 2,
        clip: true,
        emphasis: { disabled: true },
        lineStyle: {
          color: MODEL_COLORS[m],
          width: LINE_W,
          type: P_DASH[p] ? P_DASH[p] : "solid",
          cap: "butt",
          join: "round",
        },
      });
    });
  });
  return out;
}

function textEl(text: string, x: number, y: number, size: number, fill: string, align: string) {
  return {
    type: "text",
    x,
    y,
    silent: true,
    z: 100,
    style: {
      text,
      fill,
      fontSize: size,
      fontFamily: FONT,
      align,
      verticalAlign: "middle",
      textAlign: align,
      textVerticalAlign: "middle",
    },
  };
}

function keyLine(x: number, y: number, color: string, dash: number[] | null) {
  return {
    type: "line",
    silent: true,
    z: 100,
    shape: { x1: x, y1: y, x2: x + KEY_W, y2: y },
    style: { stroke: color, lineWidth: LINE_W, lineDash: dash || undefined, lineCap: "butt" },
  };
}

function buildGraphics() {
  const els: any[] = [];
  PANELS.forEach((title, i) => {
    const left = PANEL_LEFT[i];
    els.push({
      type: "rect",
      silent: true,
      z: 100,
      shape: { x: left, y: STRIP_TOP, width: PANEL_W, height: STRIP_H },
      style: { fill: "#D9D9D9", stroke: "#333333", lineWidth: 3 },
    });
    els.push(textEl(title, left + PANEL_W / 2, STRIP_TOP + STRIP_H / 2, 36.7, "#1A1A1A", "center"));
    els.push({
      type: "rect",
      silent: true,
      z: 100,
      shape: { x: left, y: PANEL_TOP, width: PANEL_W, height: PANEL_H },
      style: { fill: "none", stroke: "#333333", lineWidth: 3 },
    });
  });
  els.push(textEl("model", 842, LEGEND_ROW1_Y + 2, 45.8, "#000000", "left"));
  MODELS.forEach((name, m) => {
    els.push(keyLine(MODEL_KEYS_X[m], LEGEND_ROW1_Y, MODEL_COLORS[m], null));
    els.push(textEl(name, MODEL_KEYS_X[m] + KEY_W + LABEL_GAP, LEGEND_ROW1_Y, 36.7, "#000000", "left"));
  });
  els.push(textEl("p", 1098, LEGEND_ROW2_Y, 45.8, "#000000", "left"));
  P_LEVELS.forEach((lab, p) => {
    els.push(keyLine(P_KEYS_X[p], LEGEND_ROW2_Y, "#000000", P_DASH[p]));
    els.push(textEl(lab, P_KEYS_X[p] + KEY_W + LABEL_GAP, LEGEND_ROW2_Y, 36.7, "#000000", "left"));
  });
  return els;
}

function buildOption() {
  return {
    animation: false,
    backgroundColor: "#FFFFFF",
    textStyle: { fontFamily: FONT },
    grid: PANEL_LEFT.map((left) => ({ left, top: PANEL_TOP, width: PANEL_W, height: PANEL_H, show: false, containLabel: false })),
    xAxis: [xAxisFor(0), xAxisFor(1)],
    yAxis: [
      yAxisFor(0, W_MIN, W_MAX, W_TICKS, 3, (v: number) => v.toFixed(1)),
      yAxisFor(1, L_MIN, L_MAX, L_TICKS, 5, (v: number) => String(Math.round(v))),
    ],
    series: [
      minorGridSeries(0, W_MINOR),
      minorGridSeries(1, L_MINOR),
      ...dataSeries(0, WEIGHTS),
      ...dataSeries(1, LBF),
    ],
    graphic: { elements: buildGraphics() },
  };
}

export default function App() {
  const ref = useRef<HTMLDivElement>(null);
  useEffect(() => {
    if (!ref.current) return;
    const chart = echarts.init(ref.current, null, { renderer: "svg" });
    chart.setOption(buildOption() as any);
    return () => chart.dispose();
  }, []);
  return (
    <div
      ref={ref}
      style={{ position: "fixed", left: 0, top: 0, width: 3600, height: 1500, background: "#FFFFFF" }}
    />
  );
}
